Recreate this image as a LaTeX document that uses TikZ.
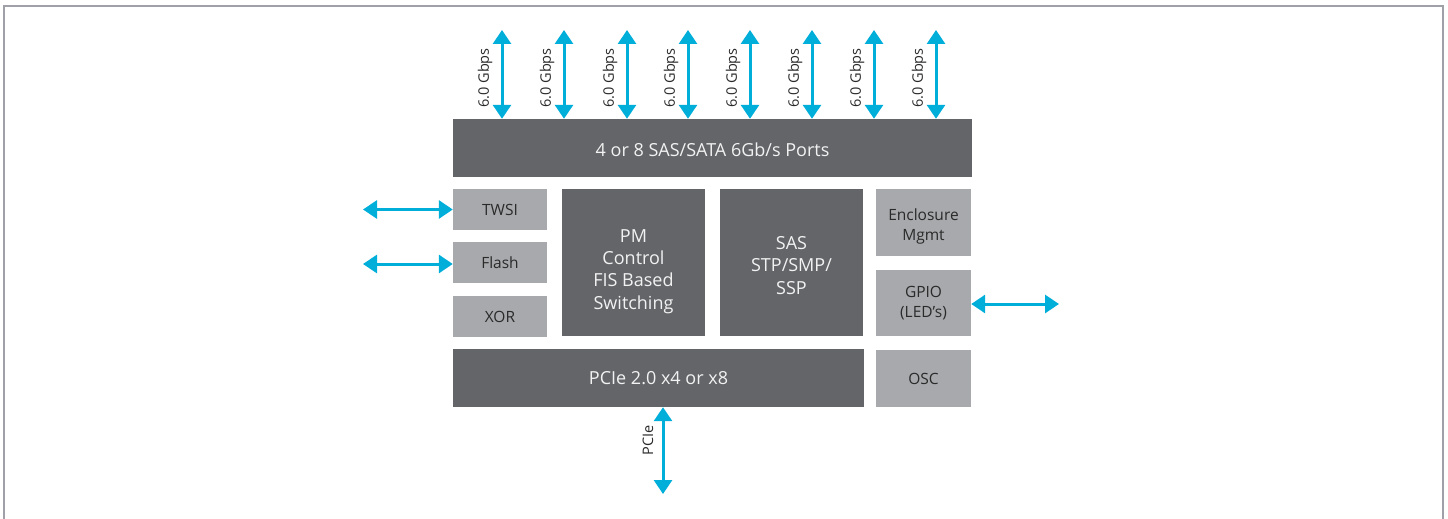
\documentclass[tikz,border=0pt]{standalone}
\usepackage{fontspec}
\setmainfont{Open Sans}
\usetikzlibrary{arrows.meta}
\definecolor{darkbox}{HTML}{636569}
\definecolor{lightbox}{HTML}{A7A9AC}
\definecolor{cyanarr}{HTML}{00AEDA}
\definecolor{framegray}{HTML}{A0A0A8}
\definecolor{lighttext}{HTML}{F2F2F2}
\definecolor{darktext}{HTML}{2A2A2A}
\tikzset{
  dark/.style={fill=darkbox, draw=none, inner sep=0pt, text=lighttext, align=center, font=\fontsize{18}{22.3}\selectfont},
  light/.style={fill=lightbox, draw=none, inner sep=0pt, text=darktext, align=center, font=\fontsize{15.5}{20}\selectfont},
  darktxt/.style={inner sep=0pt, text=lighttext, align=center, font=\fontsize{18}{22.3}\selectfont},
  lighttxt/.style={inner sep=0pt, text=darktext, align=center, font=\fontsize{15.5}{20}\selectfont},
  biarrow/.style={draw=cyanarr, line width=3pt, {Triangle[width=18pt,length=14pt]}-{Triangle[width=18pt,length=14pt]}},
  ratelabel/.style={rotate=90, font=\fontsize{14.5}{16}\selectfont, text=darktext, inner sep=0pt}
}
\begin{document}
\begin{tikzpicture}[x=1pt,y=-1pt]
\useasboundingbox (0,0) rectangle (1448,519);
\draw[framegray, line width=2pt] (4,519) -- (4,6.5) -- (1443,6.5) -- (1443,519);

\node[dark, minimum width=519pt, minimum height=58pt] (ports) at (712.5,148) {};
\node[darktxt] (portstext) at (712.5,150) {4 or 8 SAS/SATA 6Gb/s Ports};
\node[light, minimum width=94pt, minimum height=41pt] (twsi) at (500,209.5) {TWSI};
\node[light, minimum width=94pt, minimum height=41pt] (flash) at (500,262.5) {Flash};
\node[light, minimum width=94pt, minimum height=41pt] (xor) at (500,316.5) {XOR};
\node[dark, minimum width=143pt, minimum height=147pt] (pm) at (633.5,262.5) {};
\node[darktxt] (pmtext) at (633.5,271.5) {PM\\Control\\FIS Based\\Switching};
\node[dark, minimum width=143pt, minimum height=147pt] (sas) at (791.5,262.5) {};
\node[darktxt] (sastext) at (791.5,265.5) {SAS\\STP/SMP/\\SSP};
\node[light, minimum width=95pt, minimum height=67pt] (encl) at (923.5,222.5) {};
\node[lighttxt] (encltext) at (923.5,226) {Enclosure\\Mgmt};
\node[light, minimum width=95pt, minimum height=66pt] (gpio) at (923.5,303) {};
\node[lighttxt] (gpiotext) at (923.5,303) {GPIO\\(LED's)};
\node[light, minimum width=95pt, minimum height=57pt] (osc) at (923.5,378.5) {OSC};
\node[dark, minimum width=411pt, minimum height=58pt] (pcie) at (658.5,378) {PCIe 2.0 x4 or x8};

\foreach \i/\x in {1/502,2/564,3/627,4/688,5/750,6/812,7/874,8/936}{
  \coordinate (top\i) at (\x,30);
  \draw[biarrow] (top\i) -- (top\i |- ports.north);
  \node[ratelabel] (lab\i) at (\x-17,78) {6.0 Gbps};
}

\coordinate (twsiend) at (363,209.5);
\draw[biarrow] (twsiend) -- (twsi.west);
\coordinate (flashend) at (363,264);
\draw[biarrow] (flashend) -- (flashend -| flash.west);
\coordinate (gpioend) at (1059,304);
\draw[biarrow] (gpioend -| gpio.east) -- (gpioend);
\coordinate (pcieend) at (663,494);
\draw[biarrow] (pcieend |- pcie.south) -- (pcieend);
\node[ratelabel] (pcielab) at (648,440) {PCIe};
\end{tikzpicture}
\end{document}
